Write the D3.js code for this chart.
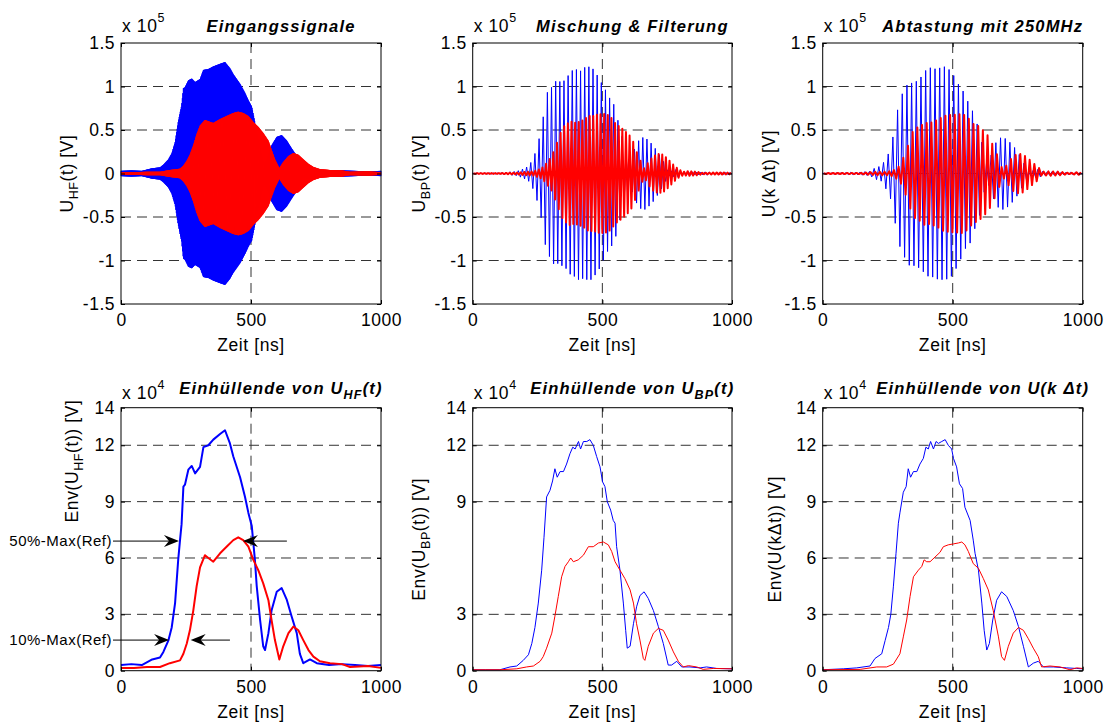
<!DOCTYPE html>
<html>
<head>
<meta charset="utf-8">
<script src="https://cdn.jsdelivr.net/npm/d3@7"></script>
<style>
body { margin: 0; background: #fff; }
svg { display: block; font-family: "Liberation Sans", Arial, sans-serif; }
</style>
</head>
<body>
<svg id="chart" width="1111" height="723"></svg>
<script>
var timeTicks = [0, 500, 1000];
var sigTicks = [-1.5, -1, -0.5, 0, 0.5, 1, 1.5];
var envTicks = [0, 3, 6, 9, 12, 14];
var envTicksBP = [0, 3, 9, 12, 14];

// envelopes: time [ns], value [x 1e4 V]
// reference (blue) and measured (red), for HF, band pass and sampled signal
var tHFRef = [0, 40, 80, 120, 150, 163, 182, 195, 208, 220, 227, 233, 240, 246, 259, 272, 285, 304, 317, 336, 355, 381, 400, 419, 432, 458, 477, 490, 503, 509, 515, 522, 535, 547, 554, 567, 579, 599, 618, 637, 656, 676, 688, 701, 727, 753, 800, 850, 900, 950, 1000];
var eHFRef = [0.3, 0.35, 0.3, 0.6, 0.7, 1.0, 1.6, 2.3, 3.6, 5.9, 6.95, 7.8, 9.8, 9.9, 10.7, 10.9, 10.5, 10.85, 11.9, 12.0, 12.3, 12.6, 12.8, 12.1, 11.4, 10.3, 9.25, 8.4, 7.7, 6.8, 5.9, 4.5, 2.7, 1.3, 1.1, 2.0, 3.2, 4.2, 4.4, 3.8, 2.9, 2.0, 0.9, 0.4, 0.6, 0.4, 0.3, 0.35, 0.3, 0.25, 0.3];
var tHFSig = [0, 50, 100, 150, 188, 227, 240, 253, 265, 278, 291, 304, 323, 336, 355, 381, 406, 432, 451, 470, 490, 509, 528, 547, 567, 579, 592, 609, 624, 644, 663, 682, 701, 721, 740, 765, 804, 850, 881, 950, 1000];
var eHFSig = [0.15, 0.15, 0.2, 0.2, 0.4, 0.55, 0.9, 1.45, 2.15, 3.2, 4.5, 5.5, 6.15, 6.0, 5.8, 6.25, 6.6, 6.95, 7.1, 6.95, 6.6, 5.9, 5.35, 4.65, 3.75, 2.7, 1.63, 0.6, 1.3, 2.0, 2.35, 2.15, 1.63, 1.1, 0.75, 0.5, 0.4, 0.35, 0.2, 0.25, 0.15];

var tBPRef = [0, 50, 105, 144, 170, 195, 215, 228, 240, 253, 266, 275, 285, 298, 308, 317, 326, 337, 350, 362, 375, 386, 395, 408, 416, 427, 440, 452, 465, 478, 491, 501, 510, 519, 532, 542, 549, 555, 568, 581, 590, 596, 607, 620, 632, 645, 661, 677, 697, 716, 735, 754, 767, 787, 806, 838, 877, 902, 941, 1000];
var eBPRef = [0.05, 0.05, 0.05, 0.2, 0.25, 0.55, 0.85, 1.45, 2.3, 3.6, 5.35, 7.1, 9.25, 9.6, 10.1, 10.75, 10.3, 10.6, 10.6, 11.0, 11.55, 11.9, 11.8, 12.2, 11.8, 12.2, 12.2, 12.3, 12.0, 11.4, 10.85, 10.05, 9.8, 9.0, 8.55, 8.0, 7.85, 6.6, 5.35, 3.6, 2.15, 1.2, 1.3, 2.5, 3.4, 4.0, 4.2, 3.85, 3.2, 2.35, 1.45, 0.3, 0.3, 0.5, 0.2, 0.2, 0.15, 0.2, 0.12, 0.1];
var tBPSig = [0, 105, 170, 208, 234, 260, 272, 285, 305, 317, 330, 343, 356, 369, 378, 388, 407, 427, 446, 465, 485, 504, 523, 536, 549, 568, 587, 607, 620, 632, 645, 658, 664, 677, 697, 716, 735, 754, 774, 793, 812, 832, 864, 889, 928, 1000];
var eBPSig = [0.05, 0.05, 0.1, 0.2, 0.25, 0.5, 0.75, 1.2, 2.0, 2.9, 3.95, 5.0, 5.55, 5.8, 6.0, 5.8, 5.9, 6.15, 6.6, 6.6, 6.8, 6.85, 6.7, 6.35, 5.8, 5.35, 4.9, 4.3, 3.6, 2.5, 1.63, 0.65, 0.55, 1.3, 2.0, 2.25, 2.15, 1.63, 1.0, 0.5, 0.2, 0.27, 0.2, 0.07, 0.12, 0.1];

var tSmpRef = [0, 79, 131, 182, 201, 227, 240, 253, 262, 272, 282, 291, 297, 310, 321, 329, 338, 349, 362, 374, 387, 397, 406, 415, 426, 436, 445, 458, 471, 483, 496, 503, 515, 526, 538, 547, 567, 579, 586, 599, 612, 621, 631, 641, 654, 669, 688, 708, 733, 753, 772, 791, 810, 829, 849, 887, 938, 977, 1000];
var eSmpRef = [0.05, 0.1, 0.15, 0.25, 0.65, 0.9, 1.6, 2.3, 3.0, 4.5, 6.25, 7.85, 8.4, 9.5, 9.8, 10.75, 10.3, 10.6, 10.6, 11.0, 11.3, 11.9, 11.8, 12.2, 11.8, 12.2, 12.1, 12.2, 12.3, 12.0, 11.8, 11.3, 10.85, 9.95, 9.7, 8.7, 8.0, 6.95, 6.25, 5.35, 3.6, 2.15, 1.1, 1.45, 2.7, 3.75, 4.2, 3.95, 3.2, 2.35, 1.3, 0.2, 0.4, 0.5, 0.2, 0.2, 0.15, 0.12, 0.1];
var tSmpSig = [0, 144, 208, 246, 272, 297, 310, 323, 336, 349, 368, 381, 390, 400, 413, 432, 451, 464, 483, 503, 522, 535, 547, 560, 579, 599, 618, 637, 656, 676, 688, 699, 714, 733, 753, 772, 791, 810, 829, 842, 874, 913, 951, 977, 1000];
var eSmpSig = [0.05, 0.07, 0.2, 0.2, 0.35, 0.9, 1.8, 2.7, 3.95, 5.0, 5.35, 5.55, 5.9, 5.8, 5.8, 6.05, 6.3, 6.6, 6.7, 6.75, 6.8, 6.85, 6.7, 6.35, 5.7, 5.45, 4.9, 4.3, 3.2, 1.8, 0.75, 0.55, 1.3, 2.0, 2.3, 2.15, 1.7, 1.2, 0.75, 0.2, 0.25, 0.2, 0.05, 0.15, 0.12];

// half carrier period [ns] used to draw the raw oscillating signals
var halfHF = 1, halfBPRef = 8, halfBPSig = 7, halfSmp = 9;

// markers in the envelope plot (levels in 1e4 V, times in ns)
var annText = ['50%-Max(Ref)', '10%-Max(Ref)'];
var annLevel = [6.9, 1.63];
var annRefTip = [223, 185];
var annSigTail = [638, 419];
var annSigTip = [469, 268];

var blue = '#0000ff', red = '#ff0000';
var svg = d3.select('#chart');
var fontSize = 17.5;

var colLeft = [121, 472.7, 822.7];
var colW = [260, 259.3, 260];
var rowTop = [43, 407.7];
var rowH = [261, 263];

// zigzag between +env and -env, amplitude in 1e5 V
function oscillation(ts, es, half, shift) {
  var env = d3.scaleLinear().domain(ts).range(es).clamp(true);
  var pts = [];
  for (var t = shift, k = 0; t <= 1000; t += half, k++) {
    pts.push([t, (k % 2 ? -1 : 1) * env(t) / 10]);
  }
  return pts;
}

function pairs(ts, es) {
  return ts.map(function(t, i) { return [t, es[i]]; });
}

function addRich(textSel, parts, small, shiftDown) {
  var level = 0;
  parts.forEach(function(p) {
    var want = p.sub ? 1 : (p.sup ? -1 : 0);
    var ts = textSel.append('tspan').text(p.t);
    if (want !== level) {
      var dy = 0;
      if (level === 1) dy -= shiftDown;
      if (level === -1) dy += 10;
      if (want === 1) dy += shiftDown;
      if (want === -1) dy -= 10;
      ts.attr('dy', dy);
      level = want;
    }
    if (want !== 0) ts.attr('font-size', small);
  });
}

function drawPanel(p) {
  var g = svg.append('g').attr('transform', 'translate(' + p.left + ',' + p.top + ')');
  var x = d3.scaleLinear().domain([0, 1000]).range([0, p.w]);
  var y = d3.scaleLinear().domain(p.domain).range([p.h, 0]);

  // grid
  g.append('g').selectAll('line')
    .data(p.ticks.filter(function(d) { return d > p.domain[0] && d < p.domain[1]; }))
    .join('line')
    .attr('x1', 0).attr('x2', p.w)
    .attr('y1', function(d) { return y(d); }).attr('y2', function(d) { return y(d); })
    .attr('stroke', '#333').attr('stroke-dasharray', '10,6');
  g.append('line')
    .attr('x1', x(500)).attr('x2', x(500)).attr('y1', 0).attr('y2', p.h)
    .attr('stroke', '#333').attr('stroke-dasharray', '10,6');

  var line = d3.line().x(function(d) { return x(d[0]); }).y(function(d) { return y(d[1]); });
  p.series.forEach(function(s) {
    g.append('path').datum(s.pts)
      .attr('d', line)
      .attr('fill', 'none')
      .attr('stroke', s.color)
      .attr('stroke-width', s.width)
      .attr('stroke-linejoin', 'round');
  });

  g.append('rect').attr('width', p.w).attr('height', p.h)
    .attr('fill', 'none').attr('stroke', '#000');

  var fmt = function(d) { return String(d); };
  var styleAxis = function(a) {
    a.select('.domain').remove();
    a.selectAll('text').attr('font-size', fontSize).attr('font-family', '"Liberation Sans", Arial, sans-serif')
      .attr('letter-spacing', 0.5).attr('fill', '#000');
  };
  g.append('g').call(d3.axisLeft(y).tickValues(p.ticks).tickSizeInner(-4).tickSizeOuter(0).tickPadding(6).tickFormat(fmt)).call(styleAxis);
  g.append('g').attr('transform', 'translate(' + p.w + ',0)')
    .call(d3.axisRight(y).tickValues(p.ticks).tickSizeInner(-4).tickSizeOuter(0).tickFormat('')).call(styleAxis);
  g.append('g').attr('transform', 'translate(0,' + p.h + ')')
    .call(d3.axisBottom(x).tickValues(timeTicks).tickSizeInner(-4).tickSizeOuter(0).tickPadding(10).tickFormat(fmt)).call(styleAxis);
  g.append('g')
    .call(d3.axisTop(x).tickValues(timeTicks).tickSizeInner(-4).tickSizeOuter(0).tickFormat('')).call(styleAxis);

  // x label
  g.append('text').attr('x', p.w / 2).attr('y', p.h + 47)
    .attr('text-anchor', 'middle').attr('font-size', fontSize).attr('letter-spacing', 0.6)
    .text('Zeit [ns]');

  // y label
  var yl = g.append('text')
    .attr('transform', 'translate(' + p.ylabX + ',' + p.ylabY + ') rotate(-90)')
    .attr('text-anchor', 'middle').attr('font-size', fontSize).attr('letter-spacing', 0.6);
  addRich(yl, p.ylabel, 12.5, 5);

  // exponent
  var ex = g.append('text').attr('x', 1).attr('y', -p.expOff)
    .attr('font-size', fontSize).attr('letter-spacing', 0.6);
  addRich(ex, [{ t: 'x 10' }, { t: p.exp, sup: true }], 12.5, 0);

  // title
  var tt = g.append('text').attr('x', p.w / 2 + 30).attr('y', -p.titleOff)
    .attr('text-anchor', 'middle').attr('font-size', 16.5).attr('font-weight', 'bold')
    .attr('font-style', 'italic').attr('letter-spacing', 1.2);
  addRich(tt, p.title, 12.5, 5);

  return { g: g, x: x, y: y };
}

var sigDomain = [-1.5, 1.5], envDomain = [0, 14];

var panels = [
  {
    col: 0, row: 0, domain: sigDomain, ticks: sigTicks, exp: '5',
    title: [{ t: 'Eingangssignale' }],
    ylabel: [{ t: 'U' }, { t: 'HF', sub: true }, { t: '(t) [V]' }],
    series: [
      { pts: oscillation(tHFRef, eHFRef, halfHF, 0), color: blue, width: 1 },
      { pts: oscillation(tHFSig, eHFSig, halfHF, 0.5), color: red, width: 1 }
    ]
  },
  {
    col: 1, row: 0, domain: sigDomain, ticks: sigTicks, exp: '5',
    title: [{ t: 'Mischung & Filterung' }],
    ylabel: [{ t: 'U' }, { t: 'BP', sub: true }, { t: '(t) [V]' }],
    series: [
      { pts: oscillation(tBPRef, eBPRef, halfBPRef, 0), color: blue, width: 1 },
      { pts: oscillation(tBPSig, eBPSig, halfBPSig, 3), color: red, width: 2 }
    ]
  },
  {
    col: 2, row: 0, domain: sigDomain, ticks: sigTicks, exp: '5',
    title: [{ t: 'Abtastung mit 250MHz' }],
    ylabel: [{ t: 'U(k \u0394t) [V]' }],
    series: [
      { pts: oscillation(tSmpRef, eSmpRef, halfSmp, 0), color: blue, width: 1 },
      { pts: oscillation(tSmpSig, eSmpSig, halfSmp, 4), color: red, width: 2 }
    ]
  },
  {
    col: 0, row: 1, domain: envDomain, ticks: envTicks, exp: '4',
    title: [{ t: 'Einh\u00fcllende von U' }, { t: 'HF', sub: true }, { t: '(t)' }],
    ylabel: [{ t: 'Env(U' }, { t: 'HF', sub: true }, { t: '(t)) [V]' }],
    ylabCenter: 461,
    series: [
      { pts: pairs(tHFRef, eHFRef), color: blue, width: 2 },
      { pts: pairs(tHFSig, eHFSig), color: red, width: 2 }
    ]
  },
  {
    col: 1, row: 1, domain: envDomain, ticks: envTicksBP, exp: '4',
    title: [{ t: 'Einh\u00fcllende von U' }, { t: 'BP', sub: true }, { t: '(t)' }],
    ylabel: [{ t: 'Env(U' }, { t: 'BP', sub: true }, { t: '(t)) [V]' }],
    series: [
      { pts: pairs(tBPRef, eBPRef), color: blue, width: 1 },
      { pts: pairs(tBPSig, eBPSig), color: red, width: 1 }
    ]
  },
  {
    col: 2, row: 1, domain: envDomain, ticks: envTicks, exp: '4',
    title: [{ t: 'Einh\u00fcllende von U(k \u0394t)' }],
    ylabel: [{ t: 'Env(U(k\u0394t)) [V]' }],
    series: [
      { pts: pairs(tSmpRef, eSmpRef), color: blue, width: 1 },
      { pts: pairs(tSmpSig, eSmpSig), color: red, width: 1 }
    ]
  }
];

var ylabOffsets = [[-48, -48, -48], [-43, -48, -42]];

var drawn = panels.map(function(p) {
  p.left = colLeft[p.col];
  p.top = rowTop[p.row];
  p.w = colW[p.col];
  p.h = rowH[p.row];
  p.ylabX = ylabOffsets[p.row][p.col];
  p.ylabY = p.ylabCenter ? p.ylabCenter - p.top : p.h / 2;
  p.expOff = p.row === 0 ? 11 : 9;
  p.titleOff = p.row === 0 ? 11 : 14;
  return drawPanel(p);
});

// arrows in the HF envelope plot
var env = drawn[3];
function arrowHead(gSel, x, y, dir) {
  var L = 15, Wd = 6, N = 10;
  var pts = [[x, y], [x - dir * L, y - Wd], [x - dir * N, y], [x - dir * L, y + Wd]];
  gSel.append('path').attr('d', 'M' + pts.join('L') + 'Z').attr('fill', '#000');
}
annText.forEach(function(label, i) {
  var yy = env.y(annLevel[i]);
  env.g.append('text').attr('x', -9).attr('y', yy + 5)
    .attr('text-anchor', 'end').attr('font-size', 15).attr('letter-spacing', 0.5)
    .text(label);
  var xTip = env.x(annRefTip[i]);
  env.g.append('line').attr('x1', -8).attr('x2', xTip - 8).attr('y1', yy).attr('y2', yy).attr('stroke', '#000');
  arrowHead(env.g, xTip, yy, 1);
  var xTail = env.x(annSigTail[i]), xTip2 = env.x(annSigTip[i]);
  env.g.append('line').attr('x1', xTail).attr('x2', xTip2 + 8).attr('y1', yy).attr('y2', yy).attr('stroke', '#000');
  arrowHead(env.g, xTip2, yy, -1);
});
</script>
</body>
</html>
